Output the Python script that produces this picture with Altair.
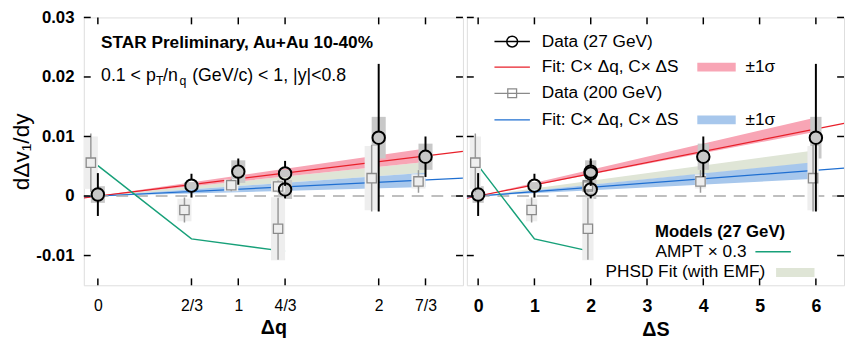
import altair as alt
import pandas as pd

FONT = "Liberation Sans"

# ---------------- measurements (7 particle combinations) ----------------
dq = [0.0, 2/3, 1.0, 4/3, 4/3, 2.0, 7/3]
ds = [0, 1, 2, 2, 2, 6, 4]
v27 = [0.00025, 0.00174, 0.0041, 0.0038, 0.0011, 0.0098, 0.0066]
stat27 = [0.0036, 0.0020, 0.0022, 0.0021, 0.0015, 0.0124, 0.0034]
sys27 = [0.0014, 0.0006, 0.0019, 0.0006, 0.0016, 0.0035, 0.0022]
v200 = [0.0056, -0.00235, 0.0018, 0.0016, -0.0055, 0.0030, 0.00245]
stat200 = [0.0049, 0.0021, 0.0010, 0.0010, 0.0052, 0.0056, 0.0019]
sys200 = [0.0044, 0.0019, 0.0010, 0.0010, 0.0053, 0.0054, 0.0012]

# ---------------- axes ----------------
y_domain = [-0.015, 0.03]
y_ticks = [-0.01, 0, 0.01, 0.02, 0.03]
y_labels = ["-0.01", "0", "0.01", "0.02", "0.03"]

dq_domain = [-0.1, 2.6]
dq_ticks = [0, 2/3, 1, 4/3, 2, 7/3]
dq_labels = ["0", "2/3", "1", "4/3", "2", "7/3"]

ds_domain = [-0.2, 6.5]
ds_ticks = [0, 1, 2, 3, 4, 5, 6]
ds_labels = ["0", "1", "2", "3", "4", "5", "6"]

# ---------------- fits (end points) ----------------
fit_dq_x = [-0.1, 2.6]
red_dq = [-0.0003, 0.0075]
blue_dq = [-0.00012, 0.0030]
fit_ds_x = [-0.2, 6.5]
red_ds = [-0.00037, 0.0122]
blue_ds = [-0.00014, 0.0047]

# bands
band_dq_x = [0, 7/3]
pink_dq_lo = [0, 0.0057]
pink_dq_hi = [0, 0.0080]
phsd_dq_lo = [0, 0.0039]
phsd_dq_hi = [0, 0.0057]
bband_dq_lo = [0, 0.0015]
bband_dq_hi = [0, 0.0039]

band_ds_x = [0, 6]
pink_ds_lo = [0, 0.0108]
pink_ds_hi = [0, 0.0132]
phsd_ds_lo = [0, 0.0056]
phsd_ds_hi = [0, 0.0077]
bband_ds_lo = [0, 0.0029]
bband_ds_hi = [0, 0.0057]

# AMPT x 0.3
ampt_y = [0.0051, -0.0072, -0.0093]
ampt_dq = [0, 2/3, 4/3]
ampt_ds = [0, 1, 2]

# texts
anno_title = "STAR Preliminary, Au+Au 10-40%"
anno_cut = ["0.1 < p", "T", "/n", "q", "(GeV/c) < 1, |y|<0.8"]
leg_labels = ["Data (27 GeV)", "Fit: C\u00d7 \u0394q, C\u00d7 \u0394S", "Data (200 GeV)",
              "Fit: C\u00d7 \u0394q, C\u00d7 \u0394S"]
sigma_label = "\u00b11\u03c3"
model_labels = ["Models (27 GeV)", "AMPT \u00d7 0.3", "PHSD Fit (with EMF)"]

RED = "#e8202a"
PINK = "#f8a5b5"
BLUE = "#1f6fd1"
LBLUE = "#a7c7ec"
BEIGE = "#dfe5d6"
GREEN = "#17a079"
DARKBOX = "#c8c8c8"
LIGHTBOX = "#eeeeee"
GRAY = "#8a8a8a"

H = 272
one = pd.DataFrame({"a": [0]})


def expr_from(ticks, labels):
    parts = []
    for t, l in zip(ticks, labels):
        parts.append(f"abs(datum.value - ({t})) < 1e-6 ? '{l}'")
    return " : ".join(parts) + " : ''"


def panel(xvals, xdom, xticks, xlabels, lab_weight, lab_size, xtitle, W,
          fit_x, red, blue, bx, plo, phi, glo, ghi, blo, bhi, ampt_x,
          show_y, hw, extra):
    xs = alt.Scale(domain=xdom, nice=False, zero=False)
    ys = alt.Scale(domain=y_domain, nice=False, zero=False)
    xaxis = alt.Axis(values=xticks, labelExpr=expr_from(xticks, xlabels), ticks=False,
                     domain=False, grid=False, labelFontSize=lab_size,
                     labelFontWeight=lab_weight, labelPadding=13, labelFlush=False,
                     labelOverlap=False, labelColor="black", labelFont=FONT,
                     title=xtitle, titleFontSize=20, titleFontWeight="bold",
                     titlePadding=4, titleColor="black", titleFont=FONT)
    if show_y:
        yaxis = alt.Axis(values=y_ticks, labelExpr=expr_from(y_ticks, y_labels), ticks=False,
                         domain=False, grid=False, labelFontSize=17, labelFontWeight="bold",
                         labelPadding=10, labelFlush=False, labelOverlap=False,
                         labelColor="black", labelFont=FONT,
                         title="d\u0394v\u2081/dy", titleFontSize=23, titleFontWeight="normal",
                         titlePadding=2, titleColor="black", titleFont=FONT)
    else:
        yaxis = None

    def X(f):
        return alt.X(f, type="quantitative", scale=xs, axis=xaxis)

    def Y(f):
        return alt.Y(f, type="quantitative", scale=ys, axis=yaxis)

    meas = pd.DataFrame({"x": xvals, "v27": v27, "st27": stat27, "sy27": sys27,
                         "v200": v200, "st200": stat200, "sy200": sys200})
    meas["x200"] = meas["x"] - 0.05
    meas["b27a"] = meas["x"] - hw
    meas["b27b"] = meas["x"] + hw
    meas["b200a"] = meas["x200"] - hw
    meas["b200b"] = meas["x200"] + hw
    meas["s27lo"] = meas["v27"] - meas["sy27"]
    meas["s27hi"] = meas["v27"] + meas["sy27"]
    meas["e27lo"] = meas["v27"] - meas["st27"]
    meas["e27hi"] = meas["v27"] + meas["st27"]
    meas["s200lo"] = meas["v200"] - meas["sy200"]
    meas["s200hi"] = meas["v200"] + meas["sy200"]
    meas["e200lo"] = meas["v200"] - meas["st200"]
    meas["e200hi"] = meas["v200"] + meas["st200"]

    bands = pd.DataFrame({"x": bx, "plo": plo, "phi": phi, "glo": glo, "ghi": ghi,
                          "blo": blo, "bhi": bhi})
    fits = pd.DataFrame({"x": fit_x, "red": red, "blue": blue})
    ampt = pd.DataFrame({"x": ampt_x, "y": ampt_y})
    zero = pd.DataFrame({"z": [0]})
    xt = pd.DataFrame({"t": xticks})
    yt = pd.DataFrame({"t": y_ticks})

    layers = [
        alt.Chart(bands).mark_area(color=BEIGE, opacity=1).encode(x=X("x"), y=Y("glo"), y2="ghi"),
        alt.Chart(bands).mark_area(color=LBLUE, opacity=1).encode(x=X("x"), y=Y("blo"), y2="bhi"),
        alt.Chart(bands).mark_area(color=PINK, opacity=1).encode(x=X("x"), y=Y("plo"), y2="phi"),
        alt.Chart(fits).mark_line(color=RED, strokeWidth=1.2, clip=True).encode(x=X("x"), y=Y("red")),
        alt.Chart(fits).mark_line(color=BLUE, strokeWidth=1.2, clip=True).encode(x=X("x"), y=Y("blue")),
        alt.Chart(zero).mark_rule(color="#aaaaaa", strokeDash=[12, 8], strokeWidth=1.5).encode(y=Y("z")),
        alt.Chart(ampt).mark_line(color=GREEN, strokeWidth=1.5).encode(x=X("x"), y=Y("y")),
        alt.Chart(meas).mark_rect(color=DARKBOX).encode(x=X("b27a"), x2="b27b", y=Y("s27lo"), y2="s27hi"),
        alt.Chart(meas).mark_rect(color=LIGHTBOX).encode(x=X("b200a"), x2="b200b", y=Y("s200lo"), y2="s200hi"),
        alt.Chart(meas).mark_rule(color="#999999", strokeWidth=1.5, y2Offset=-5).encode(
            x=X("x200"), y=Y("e200hi"), y2="v200"),
        alt.Chart(meas).mark_rule(color="#999999", strokeWidth=1.5, y2Offset=5).encode(
            x=X("x200"), y=Y("e200lo"), y2="v200"),
        alt.Chart(meas).mark_point(shape="square", size=90, color=GRAY, strokeWidth=1.3,
                                   filled=False, opacity=1).encode(x=X("x200"), y=Y("v200")),
        alt.Chart(meas).mark_rule(color="black", strokeWidth=2, y2Offset=-6).encode(
            x=X("x"), y=Y("e27hi"), y2="v27"),
        alt.Chart(meas).mark_rule(color="black", strokeWidth=2, y2Offset=6).encode(
            x=X("x"), y=Y("e27lo"), y2="v27"),
        alt.Chart(meas).mark_point(shape="circle", size=160, color="black", strokeWidth=2,
                                   filled=False, opacity=1).encode(x=X("x"), y=Y("v27")),
        # inward ticks (mirror on all four sides)
        alt.Chart(yt).mark_rule(color="black", strokeWidth=1.5).encode(
            y=Y("t"), x=alt.value(0), x2=alt.value(7)),
        alt.Chart(yt).mark_rule(color="black", strokeWidth=1.5).encode(
            y=Y("t"), x=alt.value(W - 7), x2=alt.value(W)),
        alt.Chart(xt).mark_rule(color="black", strokeWidth=1.5).encode(
            x=X("t"), y=alt.value(H - 7), y2=alt.value(H)),
        alt.Chart(xt).mark_rule(color="black", strokeWidth=1.5).encode(
            x=X("t"), y=alt.value(0), y2=alt.value(7)),
    ]
    layers += extra
    return alt.layer(*layers).properties(width=W, height=H)


def txt(s, x, y, size=17.5, weight="normal", align="left"):
    return alt.Chart(pd.DataFrame({"t": [s]})).mark_text(
        align=align, baseline="middle", fontSize=size, fontWeight=weight, font=FONT,
        color="black").encode(text="t:N", x=alt.value(x), y=alt.value(y))


# annotations on the left panel
left_extra = [
    txt(anno_title, 17.5, 26, 17.5, "bold"),
    txt(anno_cut[0], 17.5, 60, 18),
    txt(anno_cut[1], 73.2, 65, 12.5),
    txt(anno_cut[2], 80.5, 60, 18),
    txt(anno_cut[3], 97.2, 65, 12.5),
    txt(anno_cut[4], 110, 60, 18),
]

# legend on the right panel
rows = [24.5, 50.5, 77, 104]
right_extra = [
    alt.Chart(one).mark_rule(color="black", strokeWidth=1.5).encode(
        x=alt.value(28), x2=alt.value(64), y=alt.value(rows[0])),
    alt.Chart(one).mark_point(shape="circle", size=120, color="black", strokeWidth=1.5,
                              filled=False, opacity=1).encode(x=alt.value(46), y=alt.value(rows[0])),
    txt(leg_labels[0], 76, rows[0]),
    alt.Chart(one).mark_rule(color=RED, strokeWidth=1.2).encode(
        x=alt.value(28), x2=alt.value(64), y=alt.value(rows[1])),
    txt(leg_labels[1], 76, rows[1]),
    alt.Chart(one).mark_rect(color=PINK).encode(
        x=alt.value(234), x2=alt.value(273), y=alt.value(rows[1] - 4.5), y2=alt.value(rows[1] + 4.5)),
    txt(sigma_label, 283, rows[1]),
    alt.Chart(one).mark_rule(color=GRAY, strokeWidth=1.3).encode(
        x=alt.value(28), x2=alt.value(64), y=alt.value(rows[2])),
    alt.Chart(one).mark_point(shape="square", size=80, color=GRAY, strokeWidth=1.3,
                              filled=False, opacity=1).encode(
        x=alt.value(46), y=alt.value(rows[2])),
    txt(leg_labels[2], 76, rows[2]),
    alt.Chart(one).mark_rule(color=BLUE, strokeWidth=1.2).encode(
        x=alt.value(28), x2=alt.value(64), y=alt.value(rows[3])),
    txt(leg_labels[3], 76, rows[3]),
    alt.Chart(one).mark_rect(color=LBLUE).encode(
        x=alt.value(234), x2=alt.value(273), y=alt.value(rows[3] - 4.5), y2=alt.value(rows[3] + 4.5)),
    txt(sigma_label, 283, rows[3]),
    # models
    txt(model_labels[0], 191, 218, 17, "bold"),
    txt(model_labels[1], 284, 238, 17.5, "normal", "right"),
    alt.Chart(one).mark_rule(color=GREEN, strokeWidth=1.5).encode(
        x=alt.value(293), x2=alt.value(329), y=alt.value(238)),
    txt(model_labels[2], 303, 259, 17.5, "normal", "right"),
    alt.Chart(one).mark_rect(color=BEIGE).encode(
        x=alt.value(314), x2=alt.value(353), y=alt.value(254.5), y2=alt.value(263.5)),
]

left = panel(dq, dq_domain, dq_ticks, dq_labels, "normal", 16, "\u0394q", 385,
             fit_dq_x, red_dq, blue_dq, band_dq_x, pink_dq_lo, pink_dq_hi,
             phsd_dq_lo, phsd_dq_hi, bband_dq_lo, bband_dq_hi, ampt_dq,
             True, 0.05, left_extra)
right = panel(ds, ds_domain, ds_ticks, ds_labels, "bold", 18, "\u0394S", 383,
              fit_ds_x, red_ds, blue_ds, band_ds_x, pink_ds_lo, pink_ds_hi,
              phsd_ds_lo, phsd_ds_hi, bband_ds_lo, bband_ds_hi, ampt_ds,
              False, 0.1, right_extra)

chart = alt.hconcat(left, right, spacing=0).resolve_scale(x="independent", y="independent").properties(
    padding={"left": 2, "top": -3, "right": 0, "bottom": 0}
).configure_view(stroke="black", strokeWidth=1.5).configure(font=FONT)

chart.save("out.html", embed_options={"renderer": "svg", "actions": False})
